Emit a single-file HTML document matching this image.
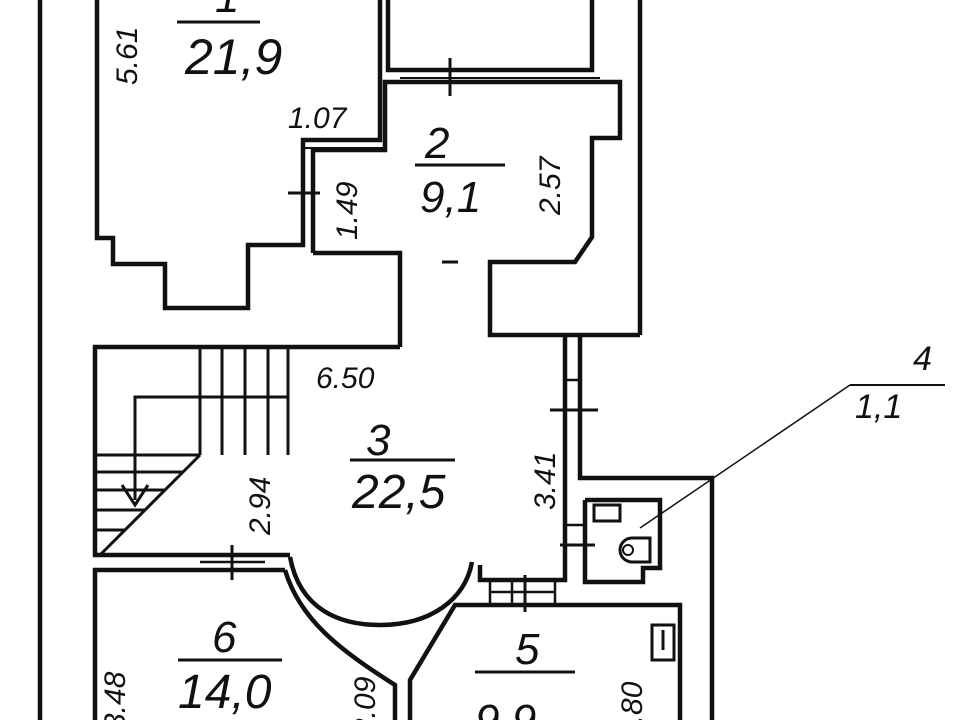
<!DOCTYPE html>
<html><head><meta charset="utf-8"><style>
html,body{margin:0;padding:0;background:#fff;}
svg{display:block;}
text{font-family:"Liberation Sans",sans-serif;font-style:italic;fill:#111;}
</style></head><body>
<svg width="960" height="720" viewBox="0 0 960 720" xmlns="http://www.w3.org/2000/svg">
<g fill="none" stroke="#111" stroke-width="4.5" stroke-linejoin="miter">
<line x1="40" y1="0" x2="40" y2="720"/>
<polyline points="640,0 640,335"/>
<polyline points="580,335 580,478 712,478 712,720"/>
<polyline points="97,0 97,238 113,238 113,264 165,264 165,308 248,308 248,245 303,245 303,140 380,140 380,0"/>
<polyline points="388,0 388,70 592,70 592,0"/>
<polyline points="313,253 313,150 385,150 385,82 620,82 620,138 592,138 592,237 575,262 490,262 490,335 640,335"/>
<polyline points="313,253 400,253 400,347"/>
<line x1="303" y1="148" x2="385" y2="148" stroke-width="2"/>
<polyline points="400,347 95,347 95,555 290,555"/>
<polyline points="565,335 565,580 480,580 480,565"/>
<path d="M290,557 C300,610 340,625 380,625 C430,625 465,600 472,562"/>
<g stroke-width="3">
<line x1="200" y1="347" x2="200" y2="455"/>
<line x1="222" y1="347" x2="222" y2="455"/>
<line x1="245" y1="347" x2="245" y2="455"/>
<line x1="268" y1="347" x2="268" y2="455"/>
<line x1="288" y1="347" x2="288" y2="455"/>
<polyline points="135,500 135,397 288,397"/>
<line x1="95" y1="455" x2="200" y2="455"/>
<line x1="95" y1="472" x2="182" y2="472"/>
<line x1="95" y1="490" x2="165" y2="490"/>
<line x1="95" y1="510" x2="145" y2="510"/>
<line x1="95" y1="530" x2="125" y2="530"/>
<line x1="200" y1="455" x2="100" y2="555"/>
<polyline points="122,485 135,505 148,485"/>
</g>
<polyline points="95,720 95,570 285,570"/>
<path d="M285,570 C300,620 340,650 395,685 L395,720"/>
<polyline points="410,720 410,680 455,605 680,605 680,720"/>
<line x1="490" y1="592" x2="555" y2="592" stroke-width="2.5"/>
<line x1="490" y1="580" x2="490" y2="605" stroke-width="2.5"/>
<line x1="512" y1="580" x2="512" y2="605" stroke-width="2.5"/>
<line x1="555" y1="580" x2="555" y2="605" stroke-width="2.5"/>
<line x1="525" y1="575" x2="525" y2="612" stroke-width="3"/>
<line x1="200" y1="562" x2="265" y2="562" stroke-width="2.5"/>
<line x1="232" y1="545" x2="232" y2="580" stroke-width="3"/>
<line x1="565" y1="380" x2="580" y2="380" stroke-width="2.5"/>
<line x1="550" y1="410" x2="598" y2="410" stroke-width="3"/>
<line x1="565" y1="525" x2="585" y2="525" stroke-width="2.5"/>
<line x1="560" y1="545" x2="595" y2="545" stroke-width="3"/>
<line x1="400" y1="78" x2="600" y2="78" stroke-width="2"/>
<line x1="450" y1="58" x2="450" y2="96" stroke-width="3"/>
<line x1="288" y1="193" x2="320" y2="193" stroke-width="3"/>
<line x1="442" y1="262" x2="458" y2="262" stroke-width="3"/>
<polyline points="585,500 660,500 660,568 643,568 643,582 585,582 585,500"/>
<rect x="594" y="505" width="26" height="16" stroke-width="3"/>
<path d="M650,538 L632,538 A12,12 0 0 0 632,562 L650,562 Z" stroke-width="3"/>
<circle cx="628" cy="550" r="5" stroke-width="2"/>
<rect x="652" y="625" width="22" height="35" stroke-width="3"/>
<line x1="663" y1="630" x2="663" y2="650" stroke-width="3"/>
<line x1="640" y1="528" x2="850" y2="385" stroke-width="1.5"/>
<line x1="850" y1="385" x2="945" y2="385" stroke-width="2"/>
<line x1="177" y1="22" x2="260" y2="22" stroke-width="3"/>
<line x1="415" y1="165" x2="505" y2="165" stroke-width="3"/>
<line x1="350" y1="460" x2="455" y2="460" stroke-width="3"/>
<line x1="178" y1="660" x2="282" y2="660" stroke-width="3"/>
<line x1="475" y1="672" x2="575" y2="672" stroke-width="3"/>
</g>
<g font-size="44">
<text x="215" y="12">1</text>
<text x="185" y="74" font-size="50">21,9</text>
<text x="425" y="158">2</text>
<text x="420" y="212">9,1</text>
<text x="366" y="455">3</text>
<text x="352" y="508" font-size="48">22,5</text>
<text x="212" y="652">6</text>
<text x="178" y="708" font-size="48">14,0</text>
<text x="515" y="664">5</text>
<text x="475" y="735">9,9</text>
<text x="913" y="370" font-size="34">4</text>
<text x="855" y="418" font-size="34">1,1</text>
</g>
<g font-size="30">
<text x="288" y="128">1.07</text>
<text x="316" y="388">6.50</text>
<text transform="translate(137,85) rotate(-90)">5.61</text>
<text transform="translate(560,215) rotate(-90)">2.57</text>
<text transform="translate(357,240) rotate(-90)">1.49</text>
<text transform="translate(555,510) rotate(-90)">3.41</text>
<text transform="translate(270,535) rotate(-90)">2.94</text>
<text transform="translate(642,740) rotate(-90)">2.80</text>
<text transform="translate(125,730) rotate(-90)">3.48</text>
<text transform="translate(375,735) rotate(-90)">2.09</text>
</g>
</svg>
</body></html>
